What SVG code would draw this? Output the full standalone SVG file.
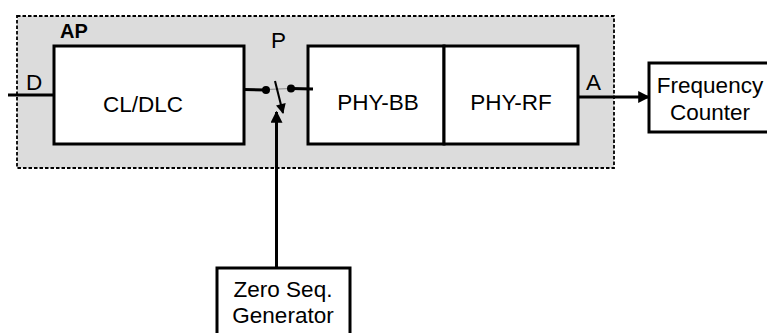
<svg xmlns="http://www.w3.org/2000/svg" width="767" height="333" viewBox="0 0 767 333">
<defs>
<style>
.box{fill:#fff;stroke:#000;stroke-width:3}
.t{font-family:"Liberation Sans",Arial,sans-serif;font-size:22.5px;fill:#000}
.c{text-anchor:middle}
.ln{stroke:#000;stroke-width:3;fill:none}
</style>
<marker id="ah" viewBox="0 0 10 10" refX="9" refY="5" markerWidth="4" markerHeight="4" orient="auto" markerUnits="strokeWidth">
<path d="M0,0 L10,5 L0,10 Z" fill="#000"/>
</marker>
<marker id="ah2" viewBox="0 0 10 10" refX="9" refY="5" markerWidth="5.5" markerHeight="5" orient="auto" markerUnits="strokeWidth">
<path d="M0,0 L10,5 L0,10 Z" fill="#000"/>
</marker>
</defs>
<rect width="767" height="333" fill="#fff"/>
<g id="AP">
<rect x="17" y="16" width="597" height="152" fill="#dcdcdc" stroke="#000" stroke-width="1.8" stroke-dasharray="3.5 2"/>
<text x="60" y="38" class="t" style="font-weight:bold;font-size:20px">AP</text>
</g>
<g id="cldlc">
<rect class="box" x="54" y="46" width="190" height="98"/>
<text class="t c" x="143" y="112">CL/DLC</text>
</g>
<g id="phybb">
<rect class="box" x="308" y="46" width="136" height="98"/>
<text class="t c" x="378" y="110">PHY-BB</text>
</g>
<g id="phyrf">
<rect class="box" x="444" y="46" width="134" height="98"/>
<text class="t c" x="511" y="110">PHY-RF</text>
</g>
<g id="freq">
<rect class="box" x="649" y="63" width="122" height="69"/>
<text class="t c" x="710" y="93">Frequency</text>
<text class="t c" x="710" y="120">Counter</text>
</g>
<g id="zero">
<rect class="box" x="217" y="268" width="133" height="70"/>
<text class="t c" x="283" y="297">Zero Seq.</text>
<text class="t c" x="283" y="323">Generator</text>
</g>
<g id="switch">
<text class="t" x="271" y="48">P</text>
<line x1="266" y1="89.5" x2="291" y2="88.5" stroke="#888" stroke-width="1.2"/>
<circle cx="266" cy="90" r="4" fill="#000"/>
<circle cx="291" cy="88.5" r="4" fill="#000"/>
<line x1="275" y1="81" x2="283" y2="113" stroke="#000" stroke-width="2" marker-end="url(#ah2)"/>
</g>
<g id="connectors">
<line class="ln" x1="8" y1="95" x2="54" y2="95" stroke-width="2.5"/>
<text class="t" x="26" y="90">D</text>
<line class="ln" x1="244" y1="89.5" x2="266" y2="90"/>
<line class="ln" x1="291" y1="88.5" x2="313" y2="89"/>
<line class="ln" x1="578" y1="97" x2="649" y2="97" marker-end="url(#ah)"/>
<text class="t" x="586" y="90">A</text>
<line class="ln" x1="276.5" y1="268" x2="276.5" y2="112" marker-end="url(#ah)"/>
</g>
</svg>
